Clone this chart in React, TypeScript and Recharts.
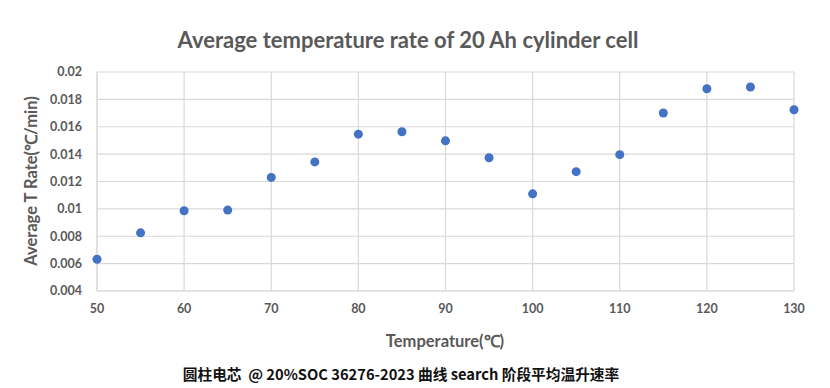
import { ScatterChart, Scatter, XAxis, YAxis, ZAxis, CartesianGrid } from 'recharts';

const temperatures = [50, 55, 60, 65, 70, 75, 80, 85, 90, 95, 100, 105, 110, 115, 120, 125, 130];
const avgRates = [
  0.00632, 0.00825, 0.00986, 0.00991, 0.0123, 0.01343, 0.01546, 0.01563, 0.01497,
  0.01374, 0.0111, 0.01272, 0.01396, 0.017, 0.01878, 0.0189, 0.01724,
];
const xTicks = [50, 60, 70, 80, 90, 100, 110, 120, 130];
const yTicks = [0.004, 0.006, 0.008, 0.01, 0.012, 0.014, 0.016, 0.018, 0.02];

const points = temperatures.map((t, i) => ({ t, rate: avgRates[i] }));

const GRAY = '#595959';
const tickStyle = { fill: GRAY, fontSize: 12.5, fontWeight: 700, fontFamily: 'Lato' };

export default function App() {
  return (
    <div style={{ position: 'absolute', left: 0, top: 0, width: 830, height: 388, background: '#fff', fontFamily: 'Lato' }}>
      {/* 标题 */}
      <div
        style={{
          position: 'absolute', left: 408, top: 39, transform: 'translate(-50%, -50%)',
          whiteSpace: 'nowrap', fontSize: 22, fontWeight: 700, color: GRAY,
        }}
      >
        Average temperature rate of 20 Ah cylinder cell
      </div>

      <ScatterChart width={830} height={388} margin={{ top: 72, right: 36, bottom: 67, left: 37 }}>
        <CartesianGrid stroke="#d9d9d9" strokeWidth={1.2} />
        <XAxis
          type="number"
          dataKey="t"
          domain={[50, 130]}
          ticks={xTicks}
          tickSize={0}
          tickMargin={13}
          height={30}
          stroke="#d9d9d9"
          tick={tickStyle}
        />
        <YAxis
          type="number"
          dataKey="rate"
          domain={[0.004, 0.02]}
          ticks={yTicks}
          tickSize={0}
          tickMargin={15}
          width={60}
          stroke="#d9d9d9"
          tick={tickStyle}
          tickFormatter={(v) => String(Number(v.toFixed(3)))}
        />
        <ZAxis range={[100, 100]} />
        <Scatter data={points} fill="#4472C4" isAnimationActive={false} />
      </ScatterChart>

      {/* 轴标题 */}
      <div
        style={{
          position: 'absolute', left: 30, top: 181, transform: 'translate(-50%, -50%) rotate(-90deg)',
          whiteSpace: 'nowrap', fontSize: 16.5, fontWeight: 700, color: GRAY,
        }}
      >
        Average T Rate(℃/min)
      </div>
      <div
        style={{
          position: 'absolute', left: 445, top: 340, transform: 'translate(-50%, -50%)',
          whiteSpace: 'nowrap', fontSize: 16.5, fontWeight: 700, color: GRAY,
        }}
      >
        Temperature(℃)
      </div>

      {/* 说明 */}
      <div
        style={{
          position: 'absolute', left: 401, top: 373, transform: 'translate(-50%, -50%)',
          whiteSpace: 'nowrap', fontSize: 14.7, fontWeight: 700, color: '#111',
          fontFamily: '"Noto Sans CJK SC"',
        }}
      >
        圆柱电芯&nbsp; @ 20%SOC 36276-2023 曲线 search 阶段平均温升速率
      </div>
    </div>
  );
}
